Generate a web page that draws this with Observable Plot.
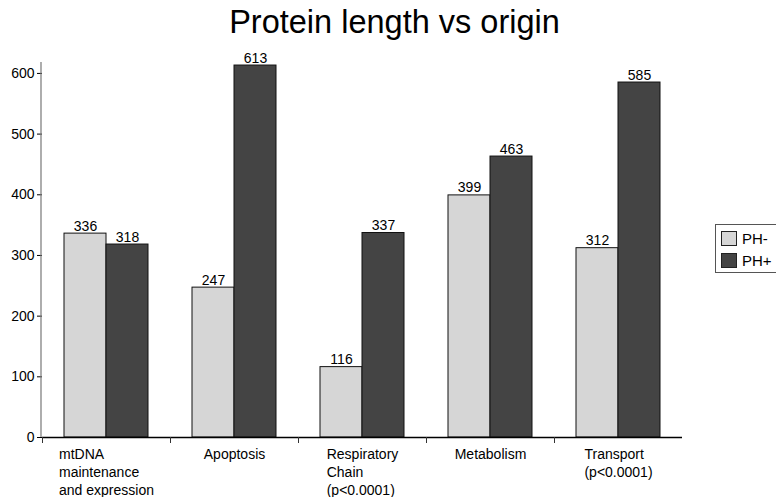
<!DOCTYPE html>
<html>
<head>
<meta charset="utf-8">
<script src="https://cdn.jsdelivr.net/npm/d3@7"></script>
<script src="https://cdn.jsdelivr.net/npm/@observablehq/plot@0.6"></script>
<style>
  html, body { margin: 0; padding: 0; background: #fff; overflow: hidden; }
  body { width: 776px; height: 497px; position: relative; font-family: "Liberation Sans", Arial, sans-serif; }
  #title { height: 44px; text-align: center; font-size: 32.5px; line-height: 44px; color: #000; padding-left: 13px; box-sizing: border-box; }
  #legend { position: absolute; left: 715px; top: 224px; width: 80px; height: 49px; border: 1px solid #555; background: #fff; box-sizing: border-box; }
  .item { position: absolute; left: 5px; height: 15px; display: flex; align-items: center; font-size: 15px; }
  .sw { width: 16px; height: 15px; border: 1px solid #222; box-sizing: border-box; margin-right: 5px; }
</style>
</head>
<body>
<div id="title">Protein length vs origin</div>
<div id="chart"></div>
<div id="legend"></div>
<script>
const categories = ["mtDNA\nmaintenance\nand expression", "Apoptosis", "Respiratory\nChain\n(p<0.0001)", "Metabolism", "Transport\n(p<0.0001)"];
const series = ["PH-", "PH+"];
const phMinus = [336, 247, 116, 399, 312];
const phPlus = [318, 613, 337, 463, 585];
const yTicks = [0, 100, 200, 300, 400, 500, 600];
const colors = ["#d6d6d6", "#444444"];

const data = [];
categories.forEach((c, i) => {
  data.push({category: c, series: series[0], value: phMinus[i]});
  data.push({category: c, series: series[1], value: phPlus[i]});
});

const FONT = "Liberation Sans, Arial, sans-serif";
const ctx = document.createElement("canvas").getContext("2d");
ctx.font = "14px " + FONT;
const blockWidth = c => Math.max(...c.split("\n").map(l => ctx.measureText(l).width));

// category labels: left-aligned text blocks centred under each group
const labelMarks = categories.map(c => Plot.text([c], {
  fx: d => d, text: d => d, frameAnchor: "bottom", textAnchor: "start",
  lineAnchor: "top", dy: 9, dx: -blockWidth(c) / 2, fontSize: 14, lineHeight: 1.27
}));

const chart = Plot.plot({
  width: 776,
  height: 453,
  marginTop: 18,
  marginBottom: 60,
  marginLeft: 41,
  marginRight: 93,
  style: {fontFamily: FONT, fontSize: "14px", color: "#000", background: "#fff"},
  fx: {domain: categories, padding: 0, label: null, axis: null},
  x: {domain: series, paddingInner: 0, paddingOuter: 0.49, axis: null},
  y: {domain: [0, 618], ticks: yTicks, label: null, axis: null},
  color: {domain: series, range: colors},
  marks: [
    Plot.barY(data, {fx: "category", x: "series", y: "value", fill: "series", stroke: "#111", strokeWidth: 1}),
    Plot.text(data, {fx: "category", x: "series", y: "value", text: d => String(d.value), lineAnchor: "bottom", dy: -3, fontSize: 14}),
    Plot.ruleY([0], {stroke: "#000", strokeWidth: 1.5}),
    Plot.frame({anchor: "left", insetTop: 375, insetBottom: -5, stroke: "#333"}),
    Plot.axisY({ticks: yTicks, tickSize: 5, tickPadding: 3, fontSize: 14, label: null, stroke: "#000"}),
    ...labelMarks
  ]
});
document.getElementById("chart").appendChild(chart);

// y axis line drawn through the y scale
const ysc = chart.scale("y");
d3.select(chart).append("line")
  .attr("x1", 41).attr("x2", 41)
  .attr("y1", ysc.apply(618)).attr("y2", ysc.apply(0))
  .attr("stroke", "#777").attr("stroke-width", 1.2);

const legend = document.getElementById("legend");
series.forEach((s, i) => {
  const item = document.createElement("div");
  item.className = "item";
  item.style.top = (6 + i * 22) + "px";
  const sw = document.createElement("div");
  sw.className = "sw";
  sw.style.background = colors[i];
  const t = document.createElement("span");
  t.textContent = s;
  item.appendChild(sw);
  item.appendChild(t);
  legend.appendChild(item);
});
</script>
</body>
</html>
